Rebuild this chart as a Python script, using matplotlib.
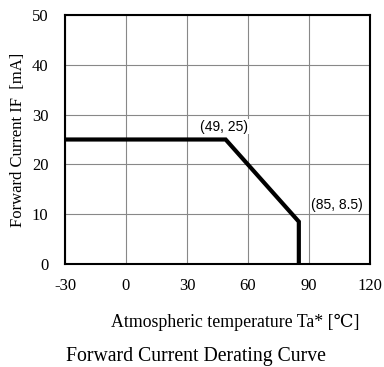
import matplotlib
matplotlib.use("Agg")
import matplotlib.pyplot as plt

# derating curve points
temp = [-30, 49, 85, 85]
current = [25, 25, 8.5, 0]
xticks = [-30, 0, 30, 60, 90, 120]
yticks = [0, 10, 20, 30, 40, 50]

plt.rcParams['font.family'] = ['Liberation Serif', 'DejaVu Serif']
plt.rcParams['axes.unicode_minus'] = False

fig = plt.figure(figsize=(3.84, 3.67), dpi=100)
ax = fig.add_axes([65/384, 1 - 264/367, 305/384, 249/367])

ax.set_xlim(-30, 120)
ax.set_ylim(0, 50)
ax.set_xticks(xticks)
ax.set_yticks(yticks)
ax.tick_params(length=0, labelsize=12, pad=10)
ax.tick_params(axis='y', pad=12)
ax.grid(True, color='#888888', linewidth=0.8)
ax.set_axisbelow(True)
for s in ax.spines.values():
    s.set_linewidth(1.5)

ax.plot(temp, current, color='black', linewidth=3, solid_joinstyle='miter')

ax.annotate('(49, 25)', (49, 25), xytext=(48.2, 27.6), ha='center', va='center',
            fontsize=10, family=['Liberation Sans', 'DejaVu Sans'],
            bbox=dict(facecolor='white', edgecolor='none', pad=0.5))
ax.annotate('(85, 8.5)', (85, 8.5), xytext=(103.5, 11.8), ha='center', va='center',
            fontsize=10, family=['Liberation Sans', 'DejaVu Sans'],
            bbox=dict(facecolor='white', edgecolor='none', pad=0.5))

fig.text(18/384, 1 - 140/367, 'Forward Current IF  [mA]', rotation=90,
         ha='center', va='center', fontsize=12)
fig.text(235/384, 1 - 322/367, 'Atmospheric temperature Ta* [℃]',
         ha='center', va='center', fontsize=12.8)
fig.text(196/384, 1 - 357/367, 'Forward Current Derating Curve',
         ha='center', va='center', fontsize=14.2)

fig.savefig('out.png', dpi=100)
